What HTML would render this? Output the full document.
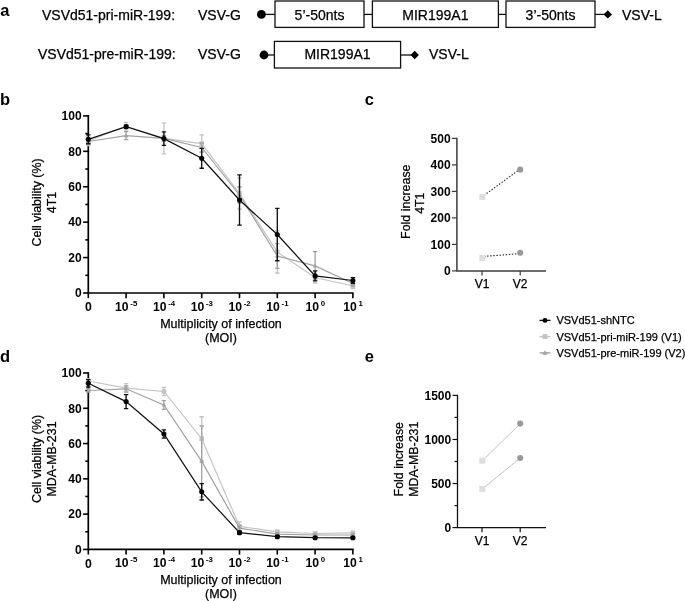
<!DOCTYPE html>
<html><head><meta charset="utf-8"><style>
html,body{margin:0;padding:0;background:#fff;width:685px;height:601px;overflow:hidden;}
svg{display:block;will-change:transform;}
text{font-family:"Liberation Sans", sans-serif;}
text:not([font-weight="bold"]){stroke:#000;stroke-width:0.25px;}
</style></head><body>
<svg width="685" height="601" viewBox="0 0 685 601">
<rect width="685" height="601" fill="#fff"/>
<text x="0.2" y="16.2" font-size="16.5" font-weight="bold" text-anchor="start" fill="#000" >a</text>
<text x="42" y="20" font-size="14" font-weight="normal" text-anchor="start" fill="#000" >VSVd51-pri-miR-199:</text>
<text x="198" y="20" font-size="14" font-weight="normal" text-anchor="start" fill="#000" >VSV-G</text>
<text x="38" y="59.4" font-size="14" font-weight="normal" text-anchor="start" fill="#000" >VSVd51-pre-miR-199:</text>
<text x="198" y="59.4" font-size="14" font-weight="normal" text-anchor="start" fill="#000" >VSV-G</text>
<line x1="261.4" y1="14.4" x2="275" y2="14.4" stroke="#111" stroke-width="1.3"/>
<line x1="364" y1="14.4" x2="372.4" y2="14.4" stroke="#111" stroke-width="1.3"/>
<line x1="498.4" y1="14.4" x2="506" y2="14.4" stroke="#111" stroke-width="1.3"/>
<line x1="595" y1="14.4" x2="607.8" y2="14.4" stroke="#111" stroke-width="1.3"/>
<circle cx="261.4" cy="14.4" r="4.4" fill="#000"/>
<rect x="275" y="1" width="89" height="26.4" fill="#fff" stroke="#111" stroke-width="1.3"/>
<text x="319.5" y="20" font-size="14" font-weight="normal" text-anchor="middle" fill="#000" >5’-50nts</text>
<rect x="372.4" y="1" width="126.0" height="26.4" fill="#fff" stroke="#111" stroke-width="1.3"/>
<text x="435.4" y="20" font-size="14" font-weight="normal" text-anchor="middle" fill="#000" >MIR199A1</text>
<rect x="506" y="1" width="89" height="26.4" fill="#fff" stroke="#111" stroke-width="1.3"/>
<text x="550.5" y="20" font-size="14" font-weight="normal" text-anchor="middle" fill="#000" >3’-50nts</text>
<path d="M603.5999999999999,14.4 L607.8,10.2 L612.0,14.4 L607.8,18.6 Z" fill="#000"/>
<text x="622" y="20" font-size="14" font-weight="normal" text-anchor="start" fill="#000" >VSV-L</text>
<line x1="264" y1="55" x2="274.4" y2="55" stroke="#111" stroke-width="1.3"/>
<line x1="400.6" y1="55" x2="414.7" y2="55" stroke="#111" stroke-width="1.3"/>
<circle cx="264" cy="55" r="4.4" fill="#000"/>
<rect x="274.4" y="41.4" width="126.20000000000005" height="26.6" fill="#fff" stroke="#111" stroke-width="1.3"/>
<text x="337.5" y="59.4" font-size="14" font-weight="normal" text-anchor="middle" fill="#000" >MIR199A1</text>
<path d="M410.5,55 L414.7,50.8 L418.9,55 L414.7,59.2 Z" fill="#000"/>
<text x="429" y="59.4" font-size="14" font-weight="normal" text-anchor="start" fill="#000" >VSV-L</text>
<text x="0.1" y="105" font-size="16.5" font-weight="bold" text-anchor="start" fill="#000" >b</text>
<path d="M88.3,115.10000000000001 L88.3,293.0 L353.7,293.0" fill="none" stroke="#000" stroke-width="1.7"/>
<line x1="83.1" y1="293.00" x2="88.3" y2="293.00" stroke="#000" stroke-width="1.6"/>
<text x="81.6" y="297.30" font-size="12" font-weight="bold" text-anchor="end" fill="#000" >0</text>
<line x1="85.3" y1="275.29" x2="88.3" y2="275.29" stroke="#000" stroke-width="1.6"/>
<line x1="83.1" y1="257.58" x2="88.3" y2="257.58" stroke="#000" stroke-width="1.6"/>
<text x="81.6" y="261.88" font-size="12" font-weight="bold" text-anchor="end" fill="#000" >20</text>
<line x1="85.3" y1="239.87" x2="88.3" y2="239.87" stroke="#000" stroke-width="1.6"/>
<line x1="83.1" y1="222.16" x2="88.3" y2="222.16" stroke="#000" stroke-width="1.6"/>
<text x="81.6" y="226.46" font-size="12" font-weight="bold" text-anchor="end" fill="#000" >40</text>
<line x1="85.3" y1="204.45" x2="88.3" y2="204.45" stroke="#000" stroke-width="1.6"/>
<line x1="83.1" y1="186.74" x2="88.3" y2="186.74" stroke="#000" stroke-width="1.6"/>
<text x="81.6" y="191.04" font-size="12" font-weight="bold" text-anchor="end" fill="#000" >60</text>
<line x1="85.3" y1="169.03" x2="88.3" y2="169.03" stroke="#000" stroke-width="1.6"/>
<line x1="83.1" y1="151.32" x2="88.3" y2="151.32" stroke="#000" stroke-width="1.6"/>
<text x="81.6" y="155.62" font-size="12" font-weight="bold" text-anchor="end" fill="#000" >80</text>
<line x1="85.3" y1="133.61" x2="88.3" y2="133.61" stroke="#000" stroke-width="1.6"/>
<line x1="83.1" y1="115.90" x2="88.3" y2="115.90" stroke="#000" stroke-width="1.6"/>
<text x="81.6" y="120.20" font-size="12" font-weight="bold" text-anchor="end" fill="#000" >100</text>
<line x1="88.3" y1="293.0" x2="88.3" y2="298.2" stroke="#000" stroke-width="1.6"/>
<line x1="126.1" y1="293.0" x2="126.1" y2="298.2" stroke="#000" stroke-width="1.6"/>
<line x1="163.89999999999998" y1="293.0" x2="163.89999999999998" y2="298.2" stroke="#000" stroke-width="1.6"/>
<line x1="201.7" y1="293.0" x2="201.7" y2="298.2" stroke="#000" stroke-width="1.6"/>
<line x1="239.5" y1="293.0" x2="239.5" y2="298.2" stroke="#000" stroke-width="1.6"/>
<line x1="277.3" y1="293.0" x2="277.3" y2="298.2" stroke="#000" stroke-width="1.6"/>
<line x1="315.09999999999997" y1="293.0" x2="315.09999999999997" y2="298.2" stroke="#000" stroke-width="1.6"/>
<line x1="352.9" y1="293.0" x2="352.9" y2="298.2" stroke="#000" stroke-width="1.6"/>
<text x="88.3" y="311.1" font-size="12.3" font-weight="bold" text-anchor="middle" fill="#000" >0</text>
<text x="126.20" y="311.0" font-size="12.2" font-weight="bold" text-anchor="middle" fill="#000">10<tspan font-size="7.8" dx="1.7" dy="-5.0">-5</tspan></text>
<text x="164.00" y="311.0" font-size="12.2" font-weight="bold" text-anchor="middle" fill="#000">10<tspan font-size="7.8" dx="1.7" dy="-5.0">-4</tspan></text>
<text x="201.80" y="311.0" font-size="12.2" font-weight="bold" text-anchor="middle" fill="#000">10<tspan font-size="7.8" dx="1.7" dy="-5.0">-3</tspan></text>
<text x="239.60" y="311.0" font-size="12.2" font-weight="bold" text-anchor="middle" fill="#000">10<tspan font-size="7.8" dx="1.7" dy="-5.0">-2</tspan></text>
<text x="277.40" y="311.0" font-size="12.2" font-weight="bold" text-anchor="middle" fill="#000">10<tspan font-size="7.8" dx="1.7" dy="-5.0">-1</tspan></text>
<text x="315.20" y="311.0" font-size="12.2" font-weight="bold" text-anchor="middle" fill="#000">10<tspan font-size="7.8" dx="1.7" dy="-5.0">0</tspan></text>
<text x="353.00" y="311.0" font-size="12.2" font-weight="bold" text-anchor="middle" fill="#000">10<tspan font-size="7.8" dx="1.7" dy="-5.0">1</tspan></text>
<text x="221" y="327.6" font-size="12.5" font-weight="normal" text-anchor="middle" fill="#000" >Multiplicity of infection</text>
<text x="221" y="342.0" font-size="12.5" font-weight="normal" text-anchor="middle" fill="#000" >(MOI)</text>
<text transform="translate(41.3,202.5) rotate(-90)" font-size="12.4" text-anchor="middle" fill="#000">Cell viability (%)</text>
<text transform="translate(55.7,202.5) rotate(-90)" font-size="12.4" text-anchor="middle" fill="#000">4T1</text>
<path d="M88.30,136.50 L88.30,145.50 M86.10,136.50 L90.50,136.50 M86.10,145.50 L90.50,145.50" stroke="#c4c4c4" stroke-width="1.3" fill="none"/>
<path d="M126.10,122.50 L126.10,130.10 M123.90,122.50 L128.30,122.50 M123.90,130.10 L128.30,130.10" stroke="#c4c4c4" stroke-width="1.3" fill="none"/>
<path d="M163.90,122.80 L163.90,153.80 M161.70,122.80 L166.10,122.80 M161.70,153.80 L166.10,153.80" stroke="#c4c4c4" stroke-width="1.3" fill="none"/>
<path d="M201.70,134.90 L201.70,152.30 M199.50,134.90 L203.90,134.90 M199.50,152.30 L203.90,152.30" stroke="#c4c4c4" stroke-width="1.3" fill="none"/>
<path d="M239.50,178.00 L239.50,209.00 M237.30,178.00 L241.70,178.00 M237.30,209.00 L241.70,209.00" stroke="#c4c4c4" stroke-width="1.3" fill="none"/>
<path d="M277.30,231.00 L277.30,273.00 M275.10,231.00 L279.50,231.00 M275.10,273.00 L279.50,273.00" stroke="#c4c4c4" stroke-width="1.3" fill="none"/>
<path d="M315.10,272.00 L315.10,283.00 M312.90,272.00 L317.30,272.00 M312.90,283.00 L317.30,283.00" stroke="#c4c4c4" stroke-width="1.3" fill="none"/>
<path d="M352.90,283.50 L352.90,288.50 M350.70,283.50 L355.10,283.50 M350.70,288.50 L355.10,288.50" stroke="#c4c4c4" stroke-width="1.3" fill="none"/>
<polyline points="88.30,141.00 126.10,126.30 163.90,138.30 201.70,143.60 239.50,193.50 277.30,252.00 315.10,277.50 352.90,286.00" fill="none" stroke="#c4c4c4" stroke-width="1.2"/>
<rect x="86.00" y="138.70" width="4.6" height="4.6" fill="#c4c4c4"/>
<rect x="123.80" y="124.00" width="4.6" height="4.6" fill="#c4c4c4"/>
<rect x="161.60" y="136.00" width="4.6" height="4.6" fill="#c4c4c4"/>
<rect x="199.40" y="141.30" width="4.6" height="4.6" fill="#c4c4c4"/>
<rect x="237.20" y="191.20" width="4.6" height="4.6" fill="#c4c4c4"/>
<rect x="275.00" y="249.70" width="4.6" height="4.6" fill="#c4c4c4"/>
<rect x="312.80" y="275.20" width="4.6" height="4.6" fill="#c4c4c4"/>
<rect x="350.60" y="283.70" width="4.6" height="4.6" fill="#c4c4c4"/>
<path d="M88.30,139.00 L88.30,144.00 M86.10,139.00 L90.50,139.00 M86.10,144.00 L90.50,144.00" stroke="#a2a2a2" stroke-width="1.3" fill="none"/>
<path d="M126.10,131.70 L126.10,139.70 M123.90,131.70 L128.30,131.70 M123.90,139.70 L128.30,139.70" stroke="#a2a2a2" stroke-width="1.3" fill="none"/>
<path d="M163.90,135.30 L163.90,141.30 M161.70,135.30 L166.10,135.30 M161.70,141.30 L166.10,141.30" stroke="#a2a2a2" stroke-width="1.3" fill="none"/>
<path d="M201.70,143.00 L201.70,152.00 M199.50,143.00 L203.90,143.00 M199.50,152.00 L203.90,152.00" stroke="#a2a2a2" stroke-width="1.3" fill="none"/>
<path d="M239.50,187.00 L239.50,203.00 M237.30,187.00 L241.70,187.00 M237.30,203.00 L241.70,203.00" stroke="#a2a2a2" stroke-width="1.3" fill="none"/>
<path d="M277.30,243.70 L277.30,268.30 M275.10,243.70 L279.50,243.70 M275.10,268.30 L279.50,268.30" stroke="#a2a2a2" stroke-width="1.3" fill="none"/>
<path d="M315.10,251.60 L315.10,280.20 M312.90,251.60 L317.30,251.60 M312.90,280.20 L317.30,280.20" stroke="#a2a2a2" stroke-width="1.3" fill="none"/>
<path d="M352.90,281.00 L352.90,286.00 M350.70,281.00 L355.10,281.00 M350.70,286.00 L355.10,286.00" stroke="#a2a2a2" stroke-width="1.3" fill="none"/>
<polyline points="88.30,141.50 126.10,135.70 163.90,138.30 201.70,147.50 239.50,195.00 277.30,256.00 315.10,265.90 352.90,283.50" fill="none" stroke="#a2a2a2" stroke-width="1.2"/>
<path d="M85.90,143.00 L90.70,143.00 L88.30,139.10 Z" fill="#a2a2a2"/>
<path d="M123.70,137.20 L128.50,137.20 L126.10,133.30 Z" fill="#a2a2a2"/>
<path d="M161.50,139.80 L166.30,139.80 L163.90,135.90 Z" fill="#a2a2a2"/>
<path d="M199.30,149.00 L204.10,149.00 L201.70,145.10 Z" fill="#a2a2a2"/>
<path d="M237.10,196.50 L241.90,196.50 L239.50,192.60 Z" fill="#a2a2a2"/>
<path d="M274.90,257.50 L279.70,257.50 L277.30,253.60 Z" fill="#a2a2a2"/>
<path d="M312.70,267.40 L317.50,267.40 L315.10,263.50 Z" fill="#a2a2a2"/>
<path d="M350.50,285.00 L355.30,285.00 L352.90,281.10 Z" fill="#a2a2a2"/>
<path d="M88.30,134.90 L88.30,143.70 M86.10,134.90 L90.50,134.90 M86.10,143.70 L90.50,143.70" stroke="#111" stroke-width="1.35" fill="none"/>
<path d="M126.10,125.25 L126.10,128.25 M123.90,125.25 L128.30,125.25 M123.90,128.25 L128.30,128.25" stroke="#111" stroke-width="1.35" fill="none"/>
<path d="M163.90,131.90 L163.90,145.30 M161.70,131.90 L166.10,131.90 M161.70,145.30 L166.10,145.30" stroke="#111" stroke-width="1.35" fill="none"/>
<path d="M201.70,148.40 L201.70,168.20 M199.50,148.40 L203.90,148.40 M199.50,168.20 L203.90,168.20" stroke="#111" stroke-width="1.35" fill="none"/>
<path d="M239.50,174.90 L239.50,225.10 M237.30,174.90 L241.70,174.90 M237.30,225.10 L241.70,225.10" stroke="#111" stroke-width="1.35" fill="none"/>
<path d="M277.30,208.30 L277.30,260.70 M275.10,208.30 L279.50,208.30 M275.10,260.70 L279.50,260.70" stroke="#111" stroke-width="1.35" fill="none"/>
<path d="M315.10,270.90 L315.10,280.90 M312.90,270.90 L317.30,270.90 M312.90,280.90 L317.30,280.90" stroke="#111" stroke-width="1.35" fill="none"/>
<path d="M352.90,277.60 L352.90,283.40 M350.70,277.60 L355.10,277.60 M350.70,283.40 L355.10,283.40" stroke="#111" stroke-width="1.35" fill="none"/>
<polyline points="88.30,139.30 126.10,126.75 163.90,138.60 201.70,158.30 239.50,200.00 277.30,234.50 315.10,275.90 352.90,280.50" fill="none" stroke="#111" stroke-width="1.25"/>
<circle cx="88.30" cy="139.30" r="2.55" fill="#000"/>
<circle cx="126.10" cy="126.75" r="2.55" fill="#000"/>
<circle cx="163.90" cy="138.60" r="2.55" fill="#000"/>
<circle cx="201.70" cy="158.30" r="2.55" fill="#000"/>
<circle cx="239.50" cy="200.00" r="2.55" fill="#000"/>
<circle cx="277.30" cy="234.50" r="2.55" fill="#000"/>
<circle cx="315.10" cy="275.90" r="2.55" fill="#000"/>
<circle cx="352.90" cy="280.50" r="2.55" fill="#000"/>
<text x="0.1" y="361.6" font-size="16.5" font-weight="bold" text-anchor="start" fill="#000" >d</text>
<path d="M88.3,372.2 L88.3,549.4 L353.7,549.4" fill="none" stroke="#000" stroke-width="1.7"/>
<line x1="83.1" y1="549.40" x2="88.3" y2="549.40" stroke="#000" stroke-width="1.6"/>
<text x="81.6" y="553.70" font-size="12" font-weight="bold" text-anchor="end" fill="#000" >0</text>
<line x1="85.3" y1="531.76" x2="88.3" y2="531.76" stroke="#000" stroke-width="1.6"/>
<line x1="83.1" y1="514.12" x2="88.3" y2="514.12" stroke="#000" stroke-width="1.6"/>
<text x="81.6" y="518.42" font-size="12" font-weight="bold" text-anchor="end" fill="#000" >20</text>
<line x1="85.3" y1="496.48" x2="88.3" y2="496.48" stroke="#000" stroke-width="1.6"/>
<line x1="83.1" y1="478.84" x2="88.3" y2="478.84" stroke="#000" stroke-width="1.6"/>
<text x="81.6" y="483.14" font-size="12" font-weight="bold" text-anchor="end" fill="#000" >40</text>
<line x1="85.3" y1="461.20" x2="88.3" y2="461.20" stroke="#000" stroke-width="1.6"/>
<line x1="83.1" y1="443.56" x2="88.3" y2="443.56" stroke="#000" stroke-width="1.6"/>
<text x="81.6" y="447.86" font-size="12" font-weight="bold" text-anchor="end" fill="#000" >60</text>
<line x1="85.3" y1="425.92" x2="88.3" y2="425.92" stroke="#000" stroke-width="1.6"/>
<line x1="83.1" y1="408.28" x2="88.3" y2="408.28" stroke="#000" stroke-width="1.6"/>
<text x="81.6" y="412.58" font-size="12" font-weight="bold" text-anchor="end" fill="#000" >80</text>
<line x1="85.3" y1="390.64" x2="88.3" y2="390.64" stroke="#000" stroke-width="1.6"/>
<line x1="83.1" y1="373.00" x2="88.3" y2="373.00" stroke="#000" stroke-width="1.6"/>
<text x="81.6" y="377.30" font-size="12" font-weight="bold" text-anchor="end" fill="#000" >100</text>
<line x1="88.3" y1="549.4" x2="88.3" y2="554.6" stroke="#000" stroke-width="1.6"/>
<line x1="126.1" y1="549.4" x2="126.1" y2="554.6" stroke="#000" stroke-width="1.6"/>
<line x1="163.89999999999998" y1="549.4" x2="163.89999999999998" y2="554.6" stroke="#000" stroke-width="1.6"/>
<line x1="201.7" y1="549.4" x2="201.7" y2="554.6" stroke="#000" stroke-width="1.6"/>
<line x1="239.5" y1="549.4" x2="239.5" y2="554.6" stroke="#000" stroke-width="1.6"/>
<line x1="277.3" y1="549.4" x2="277.3" y2="554.6" stroke="#000" stroke-width="1.6"/>
<line x1="315.09999999999997" y1="549.4" x2="315.09999999999997" y2="554.6" stroke="#000" stroke-width="1.6"/>
<line x1="352.9" y1="549.4" x2="352.9" y2="554.6" stroke="#000" stroke-width="1.6"/>
<text x="88.3" y="567.5" font-size="12.3" font-weight="bold" text-anchor="middle" fill="#000" >0</text>
<text x="126.20" y="567.4" font-size="12.2" font-weight="bold" text-anchor="middle" fill="#000">10<tspan font-size="7.8" dx="1.7" dy="-5.0">-5</tspan></text>
<text x="164.00" y="567.4" font-size="12.2" font-weight="bold" text-anchor="middle" fill="#000">10<tspan font-size="7.8" dx="1.7" dy="-5.0">-4</tspan></text>
<text x="201.80" y="567.4" font-size="12.2" font-weight="bold" text-anchor="middle" fill="#000">10<tspan font-size="7.8" dx="1.7" dy="-5.0">-3</tspan></text>
<text x="239.60" y="567.4" font-size="12.2" font-weight="bold" text-anchor="middle" fill="#000">10<tspan font-size="7.8" dx="1.7" dy="-5.0">-2</tspan></text>
<text x="277.40" y="567.4" font-size="12.2" font-weight="bold" text-anchor="middle" fill="#000">10<tspan font-size="7.8" dx="1.7" dy="-5.0">-1</tspan></text>
<text x="315.20" y="567.4" font-size="12.2" font-weight="bold" text-anchor="middle" fill="#000">10<tspan font-size="7.8" dx="1.7" dy="-5.0">0</tspan></text>
<text x="353.00" y="567.4" font-size="12.2" font-weight="bold" text-anchor="middle" fill="#000">10<tspan font-size="7.8" dx="1.7" dy="-5.0">1</tspan></text>
<text x="221" y="583.6" font-size="12.5" font-weight="normal" text-anchor="middle" fill="#000" >Multiplicity of infection</text>
<text x="221" y="598.0" font-size="12.5" font-weight="normal" text-anchor="middle" fill="#000" >(MOI)</text>
<text transform="translate(41.3,459) rotate(-90)" font-size="12.4" text-anchor="middle" fill="#000">Cell viability (%)</text>
<text transform="translate(55.7,459) rotate(-90)" font-size="12.4" text-anchor="middle" fill="#000">MDA-MB-231</text>
<path d="M88.30,379.00 L88.30,383.00 M86.10,379.00 L90.50,379.00 M86.10,383.00 L90.50,383.00" stroke="#c4c4c4" stroke-width="1.3" fill="none"/>
<path d="M126.10,383.70 L126.10,392.70 M123.90,383.70 L128.30,383.70 M123.90,392.70 L128.30,392.70" stroke="#c4c4c4" stroke-width="1.3" fill="none"/>
<path d="M163.90,387.30 L163.90,395.70 M161.70,387.30 L166.10,387.30 M161.70,395.70 L166.10,395.70" stroke="#c4c4c4" stroke-width="1.3" fill="none"/>
<path d="M201.70,416.75 L201.70,460.75 M199.50,416.75 L203.90,416.75 M199.50,460.75 L203.90,460.75" stroke="#c4c4c4" stroke-width="1.3" fill="none"/>
<path d="M239.50,521.80 L239.50,531.00 M237.30,521.80 L241.70,521.80 M237.30,531.00 L241.70,531.00" stroke="#c4c4c4" stroke-width="1.3" fill="none"/>
<path d="M277.30,530.30 L277.30,533.30 M275.10,530.30 L279.50,530.30 M275.10,533.30 L279.50,533.30" stroke="#c4c4c4" stroke-width="1.3" fill="none"/>
<path d="M315.10,532.00 L315.10,535.00 M312.90,532.00 L317.30,532.00 M312.90,535.00 L317.30,535.00" stroke="#c4c4c4" stroke-width="1.3" fill="none"/>
<path d="M352.90,531.40 L352.90,534.40 M350.70,531.40 L355.10,531.40 M350.70,534.40 L355.10,534.40" stroke="#c4c4c4" stroke-width="1.3" fill="none"/>
<polyline points="88.30,381.00 126.10,388.20 163.90,391.50 201.70,438.75 239.50,526.40 277.30,531.80 315.10,533.50 352.90,532.90" fill="none" stroke="#c4c4c4" stroke-width="1.2"/>
<rect x="86.00" y="378.70" width="4.6" height="4.6" fill="#c4c4c4"/>
<rect x="123.80" y="385.90" width="4.6" height="4.6" fill="#c4c4c4"/>
<rect x="161.60" y="389.20" width="4.6" height="4.6" fill="#c4c4c4"/>
<rect x="199.40" y="436.45" width="4.6" height="4.6" fill="#c4c4c4"/>
<rect x="237.20" y="524.10" width="4.6" height="4.6" fill="#c4c4c4"/>
<rect x="275.00" y="529.50" width="4.6" height="4.6" fill="#c4c4c4"/>
<rect x="312.80" y="531.20" width="4.6" height="4.6" fill="#c4c4c4"/>
<rect x="350.60" y="530.60" width="4.6" height="4.6" fill="#c4c4c4"/>
<path d="M88.30,389.00 L88.30,392.00 M86.10,389.00 L90.50,389.00 M86.10,392.00 L90.50,392.00" stroke="#a2a2a2" stroke-width="1.3" fill="none"/>
<path d="M126.10,385.80 L126.10,391.80 M123.90,385.80 L128.30,385.80 M123.90,391.80 L128.30,391.80" stroke="#a2a2a2" stroke-width="1.3" fill="none"/>
<path d="M163.90,400.70 L163.90,409.30 M161.70,400.70 L166.10,400.70 M161.70,409.30 L166.10,409.30" stroke="#a2a2a2" stroke-width="1.3" fill="none"/>
<path d="M201.70,426.00 L201.70,496.80 M199.50,426.00 L203.90,426.00 M199.50,496.80 L203.90,496.80" stroke="#a2a2a2" stroke-width="1.3" fill="none"/>
<path d="M239.50,525.60 L239.50,530.60 M237.30,525.60 L241.70,525.60 M237.30,530.60 L241.70,530.60" stroke="#a2a2a2" stroke-width="1.3" fill="none"/>
<path d="M277.30,532.70 L277.30,535.70 M275.10,532.70 L279.50,532.70 M275.10,535.70 L279.50,535.70" stroke="#a2a2a2" stroke-width="1.3" fill="none"/>
<path d="M315.10,533.80 L315.10,536.20 M312.90,533.80 L317.30,533.80 M312.90,536.20 L317.30,536.20" stroke="#a2a2a2" stroke-width="1.3" fill="none"/>
<path d="M352.90,533.80 L352.90,536.20 M350.70,533.80 L355.10,533.80 M350.70,536.20 L355.10,536.20" stroke="#a2a2a2" stroke-width="1.3" fill="none"/>
<polyline points="88.30,390.50 126.10,388.80 163.90,405.00 201.70,461.40 239.50,528.10 277.30,534.20 315.10,535.00 352.90,535.00" fill="none" stroke="#a2a2a2" stroke-width="1.2"/>
<path d="M85.90,392.00 L90.70,392.00 L88.30,388.10 Z" fill="#a2a2a2"/>
<path d="M123.70,390.30 L128.50,390.30 L126.10,386.40 Z" fill="#a2a2a2"/>
<path d="M161.50,406.50 L166.30,406.50 L163.90,402.60 Z" fill="#a2a2a2"/>
<path d="M199.30,462.90 L204.10,462.90 L201.70,459.00 Z" fill="#a2a2a2"/>
<path d="M237.10,529.60 L241.90,529.60 L239.50,525.70 Z" fill="#a2a2a2"/>
<path d="M274.90,535.70 L279.70,535.70 L277.30,531.80 Z" fill="#a2a2a2"/>
<path d="M312.70,536.50 L317.50,536.50 L315.10,532.60 Z" fill="#a2a2a2"/>
<path d="M350.50,536.50 L355.30,536.50 L352.90,532.60 Z" fill="#a2a2a2"/>
<path d="M88.30,379.60 L88.30,387.00 M86.10,379.60 L90.50,379.60 M86.10,387.00 L90.50,387.00" stroke="#111" stroke-width="1.35" fill="none"/>
<path d="M126.10,394.60 L126.10,408.60 M123.90,394.60 L128.30,394.60 M123.90,408.60 L128.30,408.60" stroke="#111" stroke-width="1.35" fill="none"/>
<path d="M163.90,429.90 L163.90,438.10 M161.70,429.90 L166.10,429.90 M161.70,438.10 L166.10,438.10" stroke="#111" stroke-width="1.35" fill="none"/>
<path d="M201.70,483.60 L201.70,500.00 M199.50,483.60 L203.90,483.60 M199.50,500.00 L203.90,500.00" stroke="#111" stroke-width="1.35" fill="none"/>
<path d="M239.50,531.20 L239.50,534.20 M237.30,531.20 L241.70,531.20 M237.30,534.20 L241.70,534.20" stroke="#111" stroke-width="1.35" fill="none"/>
<path d="M277.30,535.50 L277.30,537.90 M275.10,535.50 L279.50,535.50 M275.10,537.90 L279.50,537.90" stroke="#111" stroke-width="1.35" fill="none"/>
<path d="M315.10,536.70 L315.10,538.70 M312.90,536.70 L317.30,536.70 M312.90,538.70 L317.30,538.70" stroke="#111" stroke-width="1.35" fill="none"/>
<path d="M352.90,536.80 L352.90,538.80 M350.70,536.80 L355.10,536.80 M350.70,538.80 L355.10,538.80" stroke="#111" stroke-width="1.35" fill="none"/>
<polyline points="88.30,383.30 126.10,401.60 163.90,434.00 201.70,491.80 239.50,532.70 277.30,536.70 315.10,537.70 352.90,537.80" fill="none" stroke="#111" stroke-width="1.25"/>
<circle cx="88.30" cy="383.30" r="2.55" fill="#000"/>
<circle cx="126.10" cy="401.60" r="2.55" fill="#000"/>
<circle cx="163.90" cy="434.00" r="2.55" fill="#000"/>
<circle cx="201.70" cy="491.80" r="2.55" fill="#000"/>
<circle cx="239.50" cy="532.70" r="2.55" fill="#000"/>
<circle cx="277.30" cy="536.70" r="2.55" fill="#000"/>
<circle cx="315.10" cy="537.70" r="2.55" fill="#000"/>
<circle cx="352.90" cy="537.80" r="2.55" fill="#000"/>
<text x="364.8" y="105" font-size="16.5" font-weight="bold" text-anchor="start" fill="#000" >c</text>
<path d="M456.9,137.8 L456.9,270.9 L546,270.9" fill="none" stroke="#3c3c3c" stroke-width="1.5"/>
<line x1="451.9" y1="270.90" x2="456.9" y2="270.90" stroke="#3c3c3c" stroke-width="1.2"/>
<text x="450.59999999999997" y="275.30" font-size="12" font-weight="bold" text-anchor="end" fill="#000" >0</text>
<line x1="451.9" y1="244.40" x2="456.9" y2="244.40" stroke="#3c3c3c" stroke-width="1.2"/>
<text x="450.59999999999997" y="248.80" font-size="12" font-weight="bold" text-anchor="end" fill="#000" >100</text>
<line x1="451.9" y1="217.90" x2="456.9" y2="217.90" stroke="#3c3c3c" stroke-width="1.2"/>
<text x="450.59999999999997" y="222.30" font-size="12" font-weight="bold" text-anchor="end" fill="#000" >200</text>
<line x1="451.9" y1="191.40" x2="456.9" y2="191.40" stroke="#3c3c3c" stroke-width="1.2"/>
<text x="450.59999999999997" y="195.80" font-size="12" font-weight="bold" text-anchor="end" fill="#000" >300</text>
<line x1="451.9" y1="164.90" x2="456.9" y2="164.90" stroke="#3c3c3c" stroke-width="1.2"/>
<text x="450.59999999999997" y="169.30" font-size="12" font-weight="bold" text-anchor="end" fill="#000" >400</text>
<line x1="451.9" y1="138.40" x2="456.9" y2="138.40" stroke="#3c3c3c" stroke-width="1.2"/>
<text x="450.59999999999997" y="142.80" font-size="12" font-weight="bold" text-anchor="end" fill="#000" >500</text>
<line x1="482" y1="270.9" x2="482" y2="275.59999999999997" stroke="#3c3c3c" stroke-width="1.2"/>
<text x="482" y="287.9" font-size="12" font-weight="normal" text-anchor="middle" fill="#000" >V1</text>
<line x1="520.2" y1="270.9" x2="520.2" y2="275.59999999999997" stroke="#3c3c3c" stroke-width="1.2"/>
<text x="520.2" y="287.9" font-size="12" font-weight="normal" text-anchor="middle" fill="#000" >V2</text>
<text transform="translate(409.6,201.7) rotate(-90)" font-size="12.4" text-anchor="middle" fill="#000">Fold increase</text>
<text transform="translate(423.90000000000003,203.2) rotate(-90)" font-size="12.4" text-anchor="middle" fill="#000">4T1</text>
<line x1="484" y1="195.40" x2="518" y2="170.65" stroke="#333" stroke-width="1.15" stroke-dasharray="1.5,1.6"/>
<rect x="479.3" y="193.90" width="6" height="6" fill="#dedede"/>
<circle cx="520.2" cy="169.65" r="3.05" fill="#999"/>
<line x1="484" y1="256.40" x2="518" y2="253.80" stroke="#333" stroke-width="1.15" stroke-dasharray="1.5,1.6"/>
<rect x="479.3" y="254.90" width="6" height="6" fill="#dedede"/>
<circle cx="520.2" cy="252.80" r="3.05" fill="#999"/>
<text x="364.8" y="362.3" font-size="16.5" font-weight="bold" text-anchor="start" fill="#000" >e</text>
<path d="M457.5,394.79999999999995 L457.5,527.6 L546,527.6" fill="none" stroke="#111" stroke-width="1.3"/>
<line x1="452.5" y1="527.60" x2="457.5" y2="527.60" stroke="#111" stroke-width="1.2"/>
<text x="451.2" y="532.00" font-size="12" font-weight="bold" text-anchor="end" fill="#000" >0</text>
<line x1="452.5" y1="483.53" x2="457.5" y2="483.53" stroke="#111" stroke-width="1.2"/>
<text x="451.2" y="487.93" font-size="12" font-weight="bold" text-anchor="end" fill="#000" >500</text>
<line x1="452.5" y1="439.47" x2="457.5" y2="439.47" stroke="#111" stroke-width="1.2"/>
<text x="451.2" y="443.87" font-size="12" font-weight="bold" text-anchor="end" fill="#000" >1000</text>
<line x1="452.5" y1="395.40" x2="457.5" y2="395.40" stroke="#111" stroke-width="1.2"/>
<text x="451.2" y="399.80" font-size="12" font-weight="bold" text-anchor="end" fill="#000" >1500</text>
<line x1="454.5" y1="505.57" x2="457.5" y2="505.57" stroke="#111" stroke-width="1.2"/>
<line x1="454.5" y1="461.50" x2="457.5" y2="461.50" stroke="#111" stroke-width="1.2"/>
<line x1="454.5" y1="417.43" x2="457.5" y2="417.43" stroke="#111" stroke-width="1.2"/>
<line x1="482" y1="527.6" x2="482" y2="532.3000000000001" stroke="#111" stroke-width="1.2"/>
<text x="482" y="544.6" font-size="12" font-weight="normal" text-anchor="middle" fill="#000" >V1</text>
<line x1="520.2" y1="527.6" x2="520.2" y2="532.3000000000001" stroke="#111" stroke-width="1.2"/>
<text x="520.2" y="544.6" font-size="12" font-weight="normal" text-anchor="middle" fill="#000" >V2</text>
<text transform="translate(403.3,459.2) rotate(-90)" font-size="12.4" text-anchor="middle" fill="#000">Fold increase</text>
<text transform="translate(417.6,459.2) rotate(-90)" font-size="12.4" text-anchor="middle" fill="#000">MDA-MB-231</text>
<line x1="482.5" y1="460.70" x2="520.3" y2="423.60" stroke="#bdbdbd" stroke-width="0.9"/>
<rect x="479.3" y="457.70" width="6" height="6" fill="#dedede"/>
<circle cx="520.2" cy="423.60" r="3.05" fill="#999"/>
<line x1="482.5" y1="488.90" x2="520.3" y2="458.00" stroke="#bdbdbd" stroke-width="0.9"/>
<rect x="479.3" y="485.90" width="6" height="6" fill="#dedede"/>
<circle cx="520.2" cy="458.00" r="3.05" fill="#999"/>
<line x1="539.5" y1="320.4" x2="550.5" y2="320.4" stroke="#111" stroke-width="1.4"/>
<circle cx="545" cy="320.4" r="2.4" fill="#000"/>
<text x="556.4" y="324.4" font-size="11" font-weight="normal" text-anchor="start" fill="#000" >VSVd51-shNTC</text>
<line x1="539.5" y1="336.6" x2="550.5" y2="336.6" stroke="#c4c4c4" stroke-width="1.4"/>
<rect x="542.6" y="334.20000000000005" width="4.8" height="4.8" fill="#c4c4c4"/>
<text x="556.4" y="340.6" font-size="11" font-weight="normal" text-anchor="start" fill="#000" >VSVd51-pri-miR-199 (V1)</text>
<line x1="539.5" y1="352.9" x2="550.5" y2="352.9" stroke="#a2a2a2" stroke-width="1.4"/>
<path d="M542.4,354.7 L547.6,354.7 L545,350.29999999999995 Z" fill="#a2a2a2"/>
<text x="556.4" y="356.9" font-size="11" font-weight="normal" text-anchor="start" fill="#000" >VSVd51-pre-miR-199 (V2)</text>
</svg>
</body></html>
